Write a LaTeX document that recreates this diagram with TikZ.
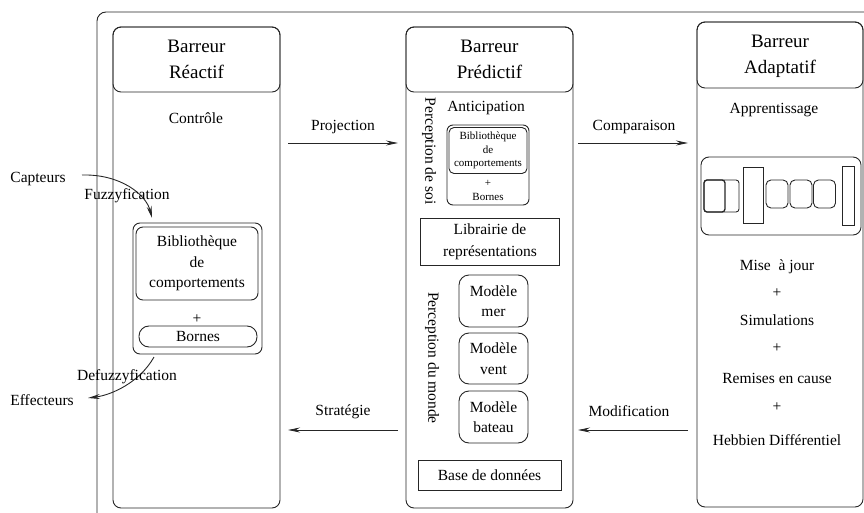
\documentclass[tikz,border=0pt]{standalone}
\usepackage{fontspec}
\setmainfont{Liberation Serif}
\usetikzlibrary{arrows.meta}
\begin{document}
\begin{tikzpicture}[x=1pt,y=-1pt,
  every node/.style={inner sep=0pt, outer sep=0pt},
  ln/.style={line width=0.9pt, draw=black!85},
  col/.style={ln, rounded corners=8pt, rectangle},
  rbox/.style={ln, rounded corners=7pt, rectangle},
  sbox/.style={ln, rectangle},
  txt/.style={font=\fontsize{15.5}{20.5}\selectfont, align=center},
  htxt/.style={font=\fontsize{19}{26}\selectfont, align=center},
  smtxt/.style={font=\fontsize{11}{13.5}\selectfont, align=center},
  arr/.style={ln, -{Stealth[length=12pt,width=5pt,inset=4pt]}}
]
\useasboundingbox (0,0) rectangle (864,513);
% outer frame
\draw[ln, rounded corners=9pt] (97,513) -- (97,12) -- (864,12);

% ---------------- Reactif column
\node[col, minimum width=167pt, minimum height=481pt] (colR) at (196.5,267.5) {};
\node[col, minimum width=167pt, minimum height=65pt] (hR) at (196.5,59.5) {};
\node[htxt] (tR) at (196.5,59.5) {Barreur\\Réactif};
\node[txt] (ctrl) at (196,118) {Contrôle};
\node[rbox, minimum width=129pt, minimum height=131pt] (bibR) at (197.5,288.5) {};
\node[rbox, minimum width=122pt, minimum height=73pt, txt] (bibRi) at (197,263.5) {Bibliothèque\\de\\comportements};
\node[txt] (plR) at (197,319) {+};
\node[ln, rounded corners=10pt, rectangle, minimum width=118pt, minimum height=21pt, txt] (bornR) at (198,336.5) {Bornes};

\node[txt] (capt) at (38,179) {Capteurs};
\node[txt] (eff) at (42,400) {Effecteurs};
\coordinate (captE) at (82,175);
\coordinate (fuzE) at (152,218);
\draw[arr] (captE) .. controls (120,174) and (146,194) .. (fuzE);
\node[txt] (fuz) at (127,196) {Fuzzyfication};
\coordinate (defS) at (154,357);
\coordinate (effE) at (88,398);
\draw[arr] (defS) .. controls (140,382) and (112,395) .. (effE);
\node[txt] (defuz) at (127,377) {Defuzzyfication};

% ---------------- Predictif column
\node[col, minimum width=167pt, minimum height=481pt] (colP) at (489.5,267.5) {};
\node[col, minimum width=167pt, minimum height=65pt] (hP) at (489.5,59.5) {};
\node[htxt] (tP) at (489.5,59.5) {Barreur\\Prédictif};
\node[txt, rotate=-90] (psoi) at (429,151) {Perception de soi};
\node[txt] (antic) at (486,108) {Anticipation};
\node[rbox, rounded corners=6pt, minimum width=82pt, minimum height=80pt] (bibP) at (488,165) {};
\node[rbox, rounded corners=5pt, minimum width=78pt, minimum height=46pt, smtxt] (bibPi) at (488,150.5) {Bibliothèque\\de\\comportements};
\node[smtxt] (plP) at (488,183) {+};
\node[smtxt] (bornP) at (488,197) {Bornes};
\node[sbox, minimum width=139pt, minimum height=47pt, font=\fontsize{15.5}{22}\selectfont, align=center] (libr) at (490,242) {Librairie de\\représentations};
\node[txt, rotate=-90] (pmonde) at (432,358) {Perception du monde};
\node[rbox, rounded corners=10pt, minimum width=69pt, minimum height=52pt, txt] (mmer) at (493.5,301) {Modèle\\mer};
\node[rbox, rounded corners=10pt, minimum width=69pt, minimum height=51pt, txt] (mvent) at (493.5,358.5) {Modèle\\vent};
\node[rbox, rounded corners=10pt, minimum width=69pt, minimum height=52pt, txt] (mbat) at (493.5,417) {Modèle\\bateau};
\node[sbox, minimum width=143pt, minimum height=30pt, txt] (bdd) at (489.5,475) {Base de données};

% ---------------- Adaptatif column
\node[col, minimum width=166pt, minimum height=485pt] (colA) at (780,264.5) {};
\node[col, minimum width=166pt, minimum height=66pt] (hA) at (780,55) {};
\node[htxt] (tA) at (780,56) {Barreur\\Adaptatif};
\node[txt] (appr) at (774,110) {Apprentissage};
\node[rbox, rounded corners=8pt, minimum width=160pt, minimum height=78pt] (net) at (781,196) {};
\node[rbox, rounded corners=3pt, minimum width=35pt, minimum height=32pt] (n1b) at (721.5,196) {};
\node[ln, line width=1.3pt, rounded corners=3pt, rectangle, minimum width=21pt, minimum height=32pt] (n1) at (714.5,196) {};
\node[sbox, minimum width=20pt, minimum height=56pt] (n2) at (753,195) {};
\node[rbox, rounded corners=5pt, minimum width=22pt, minimum height=28pt] (n3) at (777,194) {};
\node[rbox, rounded corners=5pt, minimum width=22pt, minimum height=28pt] (n4) at (801,194) {};
\node[rbox, rounded corners=5pt, minimum width=22pt, minimum height=28pt] (n5) at (824.5,194) {};
\node[sbox, minimum width=12pt, minimum height=59pt] (n6) at (848,195.5) {};
\node[txt] (maj) at (777,267) {Mise~~à jour};
\node[txt] (pa1) at (777,293) {+};
\node[txt] (simu) at (777,320) {Simulations};
\node[txt] (pa2) at (777,348) {+};
\node[txt] (remi) at (777,378) {Remises en cause};
\node[txt] (pa3) at (777,407) {+};
\node[txt] (hebb) at (777,440) {Hebbien Différentiel};

% ---------------- inter-column arrows
\coordinate (projS) at (288,143); \coordinate (projE) at (398,143);
\draw[arr] (projS) -- (projE);
\node[txt] (lproj) at (343,127) {Projection};
\coordinate (compS) at (578,143); \coordinate (compE) at (688,143);
\draw[arr] (compS) -- (compE);
\node[txt] (lcomp) at (634,127) {Comparaison};
\coordinate (stratS) at (398,430); \coordinate (stratE) at (288,430);
\draw[arr] (stratS) -- (stratE);
\node[txt] (lstrat) at (343,412) {Stratégie};
\coordinate (modS) at (688,430); \coordinate (modE) at (578,430);
\draw[arr] (modS) -- (modE);
\node[txt] (lmod) at (629,411) {Modification};
\end{tikzpicture}
\end{document}
